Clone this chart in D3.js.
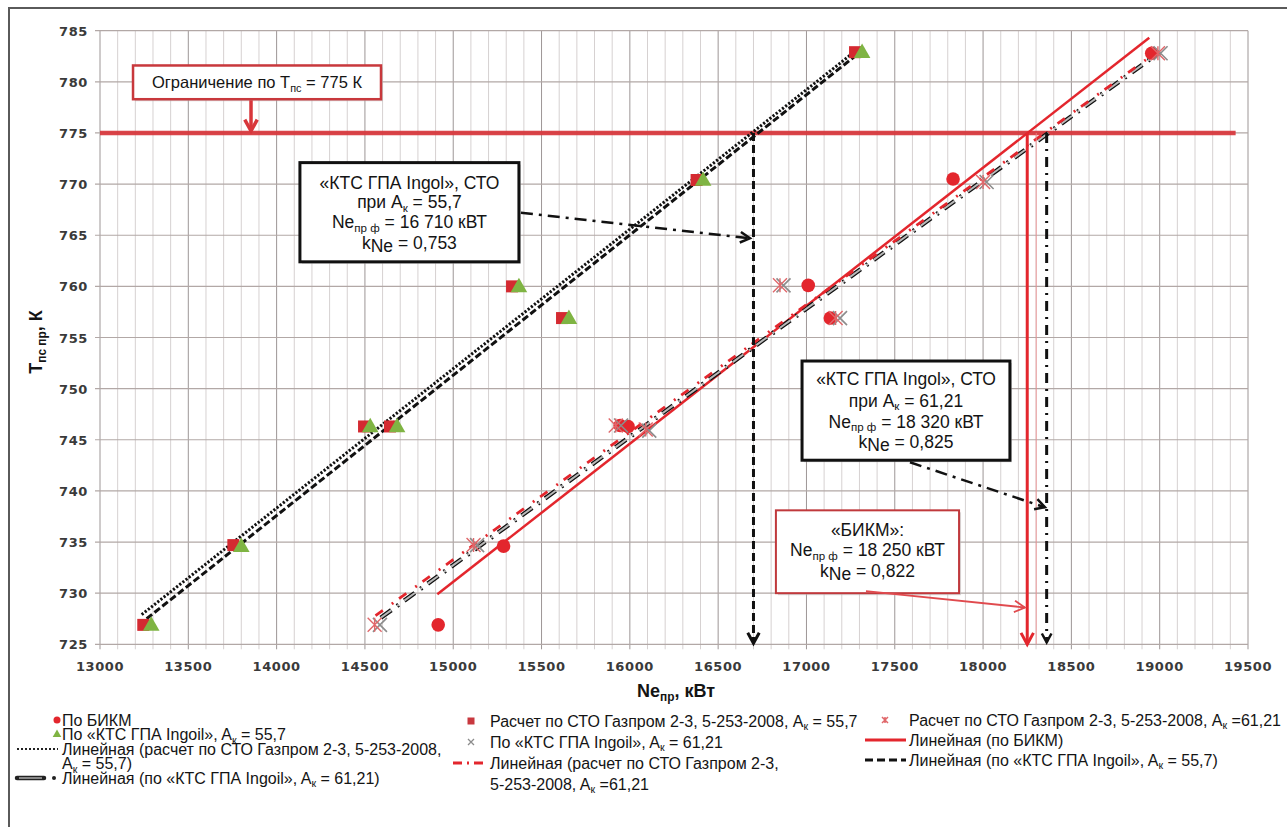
<!DOCTYPE html>
<html>
<head>
<meta charset="utf-8">
<script src="https://cdn.jsdelivr.net/npm/d3@7"></script>
<style>
  body { margin: 0; background: #fff; }
  svg { display: block; font-family: "Liberation Sans", Arial, sans-serif; }
</style>
</head>
<body>
<div id="chart"></div>
<script>
// ---- data ----
const xTicks = [13000, 13500, 14000, 14500, 15000, 15500, 16000, 16500, 17000, 17500, 18000, 18500, 19000, 19500];
const yTicks = [725, 730, 735, 740, 745, 750, 755, 760, 765, 770, 775, 780, 785];

// По БИКМ
const bikmNe = [14915, 15285, 15945, 15990, 17010, 17135, 17830, 18955];
const bikmT = [726.9, 734.6, 746.4, 746.3, 760.1, 756.9, 770.5, 782.8];
// По «КТС ГПА Ingoil», Ак = 55,7
const ktc557Ne = [13290, 13800, 14530, 14682, 15372, 15655, 16415, 17315];
const ktc557T = [726.9, 734.6, 746.3, 746.3, 760.0, 756.9, 770.4, 782.9];
// Расчет по СТО Газпром, Ак = 55,7
const sto557Ne = [13245, 13755, 14495, 14642, 15333, 15616, 16378, 17275];
const sto557T = [726.9, 734.7, 746.3, 746.3, 760.0, 756.9, 770.4, 782.9];
// По «КТС ГПА Ingoil», Ак = 61,21
const ktc6121Ne = [14585, 15135, 15950, 16110, 16870, 17190, 18020, 19005];
const ktc6121T = [726.9, 734.7, 746.4, 745.9, 760.1, 756.9, 770.2, 782.8];
// Расчет по СТО Газпром, Ак = 61,21
const sto6121Ne = [14555, 15115, 15920, 16090, 16850, 17165, 18000, 18990];
const sto6121T = [726.9, 734.7, 746.4, 746.0, 760.1, 756.9, 770.2, 782.8];

// linear trendlines (endpoints as drawn)
const trendSto557 = [[13236, 727.9], [17284, 783.1]];
const trendKtc557 = [[13264, 727.5], [17303, 782.9]];
const trendBikm = [[14910, 729.9], [18941, 784.3]];
const trendSto6121 = [[14560, 727.8], [18990, 783.0]];
const trendKtc6121 = [[14590, 727.6], [19000, 782.9]];

// limit and read-off values
const limitT = 775;
const limitRange = [13000, 19430];
const readNe = [16700, 18250, 18360];

// ---- setup ----
const width = 1287, height = 827;
const svg = d3.select("#chart").append("svg")
    .attr("width", width)
    .attr("height", height);

svg.append("rect").attr("width", width).attr("height", height).attr("fill", "#fff");

const x = d3.scaleLinear().domain([13000, 19500]).range([100, 1248]);
const y = d3.scaleLinear().domain([725, 785]).range([644.3, 30.7]);

const red = "#e3262d";
const sub = (s) => [s, "sub"];

// text with subscripts: parts are strings or [str, kind]
function richText(g, px, py, parts, size, anchor, weight) {
    const t = g.append("text")
        .attr("x", px).attr("y", py)
        .attr("font-size", size)
        .attr("font-weight", weight || "normal")
        .attr("text-anchor", anchor || "start")
        .attr("fill", "#141414");
    let back = 0;
    parts.forEach(p => {
        if (typeof p === "string") {
            t.append("tspan").attr("dy", -back).text(p);
            back = 0;
        } else {
            const sh = p[1] === "sub" ? size * 0.22 : size * 0.18;
            const ts = t.append("tspan").attr("dy", sh - back).text(p[0]);
            if (p[1] === "sub") ts.attr("font-size", size * 0.66);
            back = sh;
        }
    });
    return t;
}

function arrowHead(g, x1, y1, x2, y2, color, size, w) {
    const a = Math.atan2(y2 - y1, x2 - x1);
    const p1 = [x2 - size * Math.cos(a - 0.5), y2 - size * Math.sin(a - 0.5)];
    const p2 = [x2 - size * Math.cos(a + 0.5), y2 - size * Math.sin(a + 0.5)];
    g.append("path")
        .attr("d", `M${p1}L${x2},${y2}L${p2}`)
        .attr("fill", "none")
        .attr("stroke", color)
        .attr("stroke-width", w)
        .attr("stroke-linejoin", "miter");
}

// outer frame (top + left)
svg.append("path")
    .attr("d", "M9,827V8H1287")
    .attr("fill", "none")
    .attr("stroke", "#5a5a5a")
    .attr("stroke-width", 2);

// ---- grid ----
const grid = svg.append("g");
grid.selectAll(".vg")
    .data(d3.range(13000, 19501, 100))
    .enter().append("line")
    .attr("x1", d => x(d)).attr("x2", d => x(d))
    .attr("y1", y(785)).attr("y2", y(725) + 5)
    .attr("stroke", d => d % 500 === 0 ? "#9d9696" : "#d6d1d1")
    .attr("stroke-width", 1);

grid.selectAll(".hg")
    .data(yTicks)
    .enter().append("line")
    .attr("x1", x(13000) - 5).attr("x2", x(19500))
    .attr("y1", d => y(d)).attr("y2", d => y(d))
    .attr("stroke", "#b2a8a6")
    .attr("stroke-width", 1.2);

// ---- tick labels ----
svg.append("g").selectAll("text")
    .data(yTicks)
    .enter().append("text")
    .attr("x", 88).attr("y", d => y(d) + 5)
    .attr("text-anchor", "end")
    .attr("font-family", "DejaVu Sans, sans-serif")
    .attr("font-weight", "bold")
    .attr("font-size", 13)
    .attr("letter-spacing", 0.6)
    .attr("fill", "#3a3a3a")
    .text(d => d);

svg.append("g").selectAll("text")
    .data(xTicks)
    .enter().append("text")
    .attr("x", d => x(d)).attr("y", y(725) + 27)
    .attr("text-anchor", "middle")
    .attr("font-family", "DejaVu Sans, sans-serif")
    .attr("font-weight", "bold")
    .attr("font-size", 13)
    .attr("letter-spacing", 0.6)
    .attr("fill", "#3a3a3a")
    .text(d => d);

// axis titles
richText(svg, 676, 697, ["Ne", sub("пр"), ", кВт"], 18, "middle", "bold");
const yt = svg.append("g").attr("transform", "translate(42,342) rotate(-90)");
richText(yt, 0, 0, ["T", sub("пс пр"), ",  К"], 18, "middle", "bold");

// ---- limit line ----
svg.append("line")
    .attr("x1", x(limitRange[0])).attr("x2", x(limitRange[1]))
    .attr("y1", y(limitT)).attr("y2", y(limitT))
    .attr("stroke", "#d8363b")
    .attr("stroke-width", 4.5)
    .attr("opacity", 0.92);

// ---- trendlines ----
const line = d3.line().x(d => x(d[0])).y(d => y(d[1]));
const trends = svg.append("g").attr("fill", "none");

trends.append("path").datum(trendKtc557).attr("d", line)
    .attr("stroke", "#111").attr("stroke-width", 3).attr("stroke-dasharray", "7,3");
trends.append("path").datum(trendSto557).attr("d", line)
    .attr("stroke", "#111").attr("stroke-width", 3).attr("stroke-dasharray", "2.2,1.8");
trends.append("path").datum(trendBikm).attr("d", line)
    .attr("stroke", red).attr("stroke-width", 2.5);
trends.append("path").datum(trendKtc6121).attr("d", line)
    .attr("stroke", "#111").attr("stroke-width", 4.5).attr("stroke-dasharray", "13,7,2,7");
trends.append("path").datum(trendKtc6121).attr("d", line)
    .attr("stroke", "#b9b9b9").attr("stroke-width", 2).attr("stroke-dasharray", "13,7,2,7");
trends.append("path").datum(trendSto6121).attr("d", line)
    .attr("stroke", red).attr("stroke-width", 2.8).attr("stroke-dasharray", "9,11,2,7");

// ---- vertical read-off arrows ----
const vr = svg.append("g").attr("fill", "none");
vr.append("line")
    .attr("x1", x(readNe[0])).attr("x2", x(readNe[0]))
    .attr("y1", y(limitT)).attr("y2", y(725) - 1)
    .attr("stroke", "#111").attr("stroke-width", 3).attr("stroke-dasharray", "8,4");
arrowHead(vr, x(readNe[0]), y(730), x(readNe[0]), y(725) - 1, "#111", 12, 3);

vr.append("line")
    .attr("x1", x(readNe[1]) + 9).attr("x2", x(readNe[1]) + 9)
    .attr("y1", y(limitT)).attr("y2", y(725))
    .attr("stroke", "#ef8a8c").attr("stroke-width", 0.8);
vr.append("line")
    .attr("x1", x(readNe[1])).attr("x2", x(readNe[1]))
    .attr("y1", y(limitT)).attr("y2", y(725))
    .attr("stroke", red).attr("stroke-width", 3);
arrowHead(vr, x(readNe[1]), y(730), x(readNe[1]), y(725), red, 13, 3);

vr.append("line")
    .attr("x1", x(readNe[2])).attr("x2", x(readNe[2]))
    .attr("y1", y(limitT)).attr("y2", y(725) - 2)
    .attr("stroke", "#111").attr("stroke-width", 3).attr("stroke-dasharray", "10,6,2,6");
arrowHead(vr, x(readNe[2]), y(730), x(readNe[2]), y(725) - 2, "#111", 10, 2.5);

// ---- markers ----
function zip(a, b) { return a.map((v, i) => [v, b[i]]); }
const marks = svg.append("g");

marks.selectAll(".circ").data(zip(bikmNe, bikmT)).enter().append("circle")
    .attr("cx", d => x(d[0])).attr("cy", d => y(d[1])).attr("r", 6.8)
    .attr("fill", red);

marks.selectAll(".sq").data(zip(sto557Ne, sto557T)).enter().append("rect")
    .attr("x", d => x(d[0]) - 6).attr("y", d => y(d[1]) - 6)
    .attr("width", 12).attr("height", 12)
    .attr("fill", "#d42a31");

const tri = d3.symbol().type(d3.symbolTriangle).size(120);
marks.selectAll(".tri").data(zip(ktc557Ne, ktc557T)).enter().append("path")
    .attr("d", tri)
    .attr("transform", d => `translate(${x(d[0])},${y(d[1]) + 1})`)
    .attr("fill", "#7fb443");

function crossPath(s, star) {
    let p = `M${-s},${-s}L${s},${s}M${-s},${s}L${s},${-s}`;
    if (star) p += `M0,${-s}L0,${s}`;
    return p;
}
marks.selectAll(".xg").data(zip(ktc6121Ne, ktc6121T)).enter().append("path")
    .attr("d", crossPath(7, false))
    .attr("transform", d => `translate(${x(d[0])},${y(d[1])})`)
    .attr("stroke", "#8c8c8c").attr("stroke-width", 1.6).attr("fill", "none");
marks.selectAll(".xr").data(zip(sto6121Ne, sto6121T)).enter().append("path")
    .attr("d", crossPath(7, true))
    .attr("transform", d => `translate(${x(d[0])},${y(d[1])})`)
    .attr("stroke", "#e0676a").attr("stroke-width", 1.4).attr("fill", "none");

// ---- annotation boxes ----
const ann = svg.append("g");

function box(x0, t0, x1, t1, color, sw) {
    const bx = x(x0), by = y(t0), bw = x(x1) - x(x0), bh = y(t1) - y(t0);
    ann.append("rect")
        .attr("x", bx + 2).attr("y", by + 2).attr("width", bw).attr("height", bh)
        .attr("fill", "#bdbdbd").attr("opacity", 0.6);
    ann.append("rect")
        .attr("x", bx).attr("y", by).attr("width", bw).attr("height", bh)
        .attr("fill", "#fff").attr("stroke", color).attr("stroke-width", sw);
    return { cx: bx + bw / 2, top: by };
}

// limit box + arrow
const b0 = box(13187, 781.6, 14591, 778.3, "#c8383c", 2.5);
richText(ann, b0.cx, b0.top + 23, ["Ограничение по T", sub("пс"), " = 775 К"], 16.5, "middle");
ann.append("line")
    .attr("x1", x(13855)).attr("x2", x(13855))
    .attr("y1", y(778.3) + 1).attr("y2", y(limitT) - 2)
    .attr("stroke", "#d8363b").attr("stroke-width", 3.5);
arrowHead(ann, x(13855), y(778), x(13855), y(limitT) - 2, "#d8363b", 13, 3.5);

// KTC 55,7 box
const b1 = box(14132, 772.1, 15372, 762.4, "#111", 3);
richText(ann, b1.cx, b1.top + 26, ["«КТС ГПА Ingol», СТО"], 17.5, "middle");
richText(ann, b1.cx, b1.top + 45.5, ["при A", sub("к"), " = 55,7"], 17.5, "middle");
richText(ann, b1.cx, b1.top + 65.5, ["Ne", sub("пр ф"), " = 16 710 кВТ"], 17.5, "middle");
richText(ann, b1.cx, b1.top + 86, ["k", ["Ne", "low"], " = 0,753"], 17.5, "middle");

// KTC 61,21 box
const b2 = box(16975, 752.7, 18152, 743.0, "#111", 3);
richText(ann, b2.cx, b2.top + 24, ["«КТС ГПА Ingol», СТО"], 17.5, "middle");
richText(ann, b2.cx, b2.top + 45.5, ["при A", sub("к"), " = 61,21"], 17.5, "middle");
richText(ann, b2.cx, b2.top + 66.5, ["Ne", sub("пр ф"), " = 18 320 кВТ"], 17.5, "middle");
richText(ann, b2.cx, b2.top + 87, ["k", ["Ne", "low"], " = 0,825"], 17.5, "middle");

// BIKM box
const b3 = box(16827, 738.1, 17864, 730.0, "#c0393c", 2);
richText(ann, b3.cx, b3.top + 26, ["«БИКМ»:"], 17.5, "middle");
richText(ann, b3.cx, b3.top + 46, ["Ne", sub("пр ф"), " = 18 250 кВТ"], 17.5, "middle");
richText(ann, b3.cx, b3.top + 67, ["k", ["Ne", "low"], " = 0,822"], 17.5, "middle");

// pointer arrows from boxes
ann.append("line")
    .attr("x1", x(15372) + 2).attr("y1", y(767.2))
    .attr("x2", x(16680)).attr("y2", y(764.7))
    .attr("stroke", "#111").attr("stroke-width", 2.5).attr("stroke-dasharray", "12,6,3,6");
arrowHead(ann, x(15372), y(767.2), x(16680), y(764.7), "#111", 11, 2.5);

ann.append("line")
    .attr("x1", x(17586)).attr("y1", y(742.8))
    .attr("x2", x(18350)).attr("y2", y(738.4))
    .attr("stroke", "#111").attr("stroke-width", 2.5).attr("stroke-dasharray", "12,6,3,6");
arrowHead(ann, x(17586), y(742.8), x(18350), y(738.4), "#111", 11, 2.5);

ann.append("line")
    .attr("x1", x(17337)).attr("y1", y(730.2))
    .attr("x2", x(18237)).attr("y2", y(728.6))
    .attr("stroke", "#e04a4e").attr("stroke-width", 1.8);
arrowHead(ann, x(17337), y(730.2), x(18237), y(728.6), "#e04a4e", 12, 1.8);

// ---- legend ----
const leg = svg.append("g");

function sample(type, cx, cy, x0, x1) {
    if (type === "circle") {
        leg.append("circle").attr("cx", cx).attr("cy", cy).attr("r", 3.5).attr("fill", red);
    } else if (type === "square") {
        leg.append("rect").attr("x", cx - 3.5).attr("y", cy - 3.5).attr("width", 7).attr("height", 7).attr("fill", "#c8383e");
    } else if (type === "triangle") {
        leg.append("path").attr("d", d3.symbol().type(d3.symbolTriangle).size(32))
            .attr("transform", `translate(${cx},${cy})`).attr("fill", "#7fb443");
    } else if (type === "xgrey") {
        leg.append("path").attr("d", crossPath(3, false)).attr("transform", `translate(${cx},${cy})`)
            .attr("stroke", "#8c8c8c").attr("stroke-width", 1.3);
    } else if (type === "xred") {
        leg.append("path").attr("d", crossPath(3, true)).attr("transform", `translate(${cx},${cy})`)
            .attr("stroke", "#e0676a").attr("stroke-width", 1.5);
    } else if (type === "dotted") {
        leg.append("line").attr("x1", x0).attr("x2", x1).attr("y1", cy).attr("y2", cy)
            .attr("stroke", "#222").attr("stroke-width", 2).attr("stroke-dasharray", "2,2");
    } else if (type === "capsule") {
        leg.append("line").attr("x1", x0).attr("x2", x0 + 27).attr("y1", cy).attr("y2", cy)
            .attr("stroke", "#222").attr("stroke-width", 4.5).attr("stroke-linecap", "round");
        leg.append("line").attr("x1", x0 + 2).attr("x2", x0 + 25).attr("y1", cy).attr("y2", cy)
            .attr("stroke", "#aaa").attr("stroke-width", 1.5);
        leg.append("circle").attr("cx", x0 + 37).attr("cy", cy).attr("r", 2).attr("fill", "#222");
    } else if (type === "reddashdot") {
        leg.append("line").attr("x1", x0).attr("x2", x1).attr("y1", cy).attr("y2", cy)
            .attr("stroke", red).attr("stroke-width", 3).attr("stroke-dasharray", "9,5,2,5");
    } else if (type === "redline") {
        leg.append("line").attr("x1", x0).attr("x2", x1).attr("y1", cy).attr("y2", cy)
            .attr("stroke", red).attr("stroke-width", 3);
    } else if (type === "dashed") {
        leg.append("line").attr("x1", x0).attr("x2", x1).attr("y1", cy).attr("y2", cy)
            .attr("stroke", "#111").attr("stroke-width", 3).attr("stroke-dasharray", "8,4");
    }
}

const Ak = ["A", sub("к"), "  "];
const legendCol1 = [
    { type: "circle", parts: ["По БИКМ"], cy: 720 },
    { type: "triangle", parts: ["По «КТС ГПА Ingoil», ", ...Ak, "= 55,7"], cy: 734.5 },
    { type: "dotted", parts: ["Линейная (расчет по СТО Газпром 2-3, 5-253-2008,"], cy: 749 },
    { type: null, parts: [...Ak, "= 55,7)"], cy: 763.5 },
    { type: "capsule", parts: ["Линейная (по «КТС ГПА Ingoil», ", ...Ak, "= 61,21)"], cy: 778 }
];
const legendCol2 = [
    { type: "square", parts: ["Расчет по СТО Газпром 2-3, 5-253-2008, ", ...Ak, "= 55,7"], cy: 721 },
    { type: "xgrey", parts: ["По «КТС ГПА Ingoil», ", ...Ak, "= 61,21"], cy: 742 },
    { type: "reddashdot", parts: ["Линейная (расчет по СТО Газпром 2-3,"], cy: 763 },
    { type: null, parts: ["5-253-2008, ", ...Ak, "=61,21"], cy: 784 }
];
const legendCol3 = [
    { type: "xred", parts: ["Расчет по СТО Газпром 2-3, 5-253-2008, ", ...Ak, "=61,21"], cy: 720 },
    { type: "redline", parts: ["Линейная (по БИКМ)"], cy: 740 },
    { type: "dashed", parts: ["Линейная (по «КТС ГПА Ingoil», ", ...Ak, "= 55,7)"], cy: 760 }
];

const legSize = 16;
legendCol1.forEach(d => {
    if (d.type) sample(d.type, 57, d.cy, 17, 58);
    richText(leg, 62, d.cy + 5.5, d.parts, legSize, "start");
});
legendCol2.forEach(d => {
    if (d.type) sample(d.type, 471, d.cy, 453, 484);
    richText(leg, 490, d.cy + 5.5, d.parts, legSize, "start");
});
legendCol3.forEach(d => {
    if (d.type) sample(d.type, 885, d.cy, 865, 906);
    richText(leg, 909, d.cy + 5.5, d.parts, legSize, "start");
});
</script>
</body>
</html>
